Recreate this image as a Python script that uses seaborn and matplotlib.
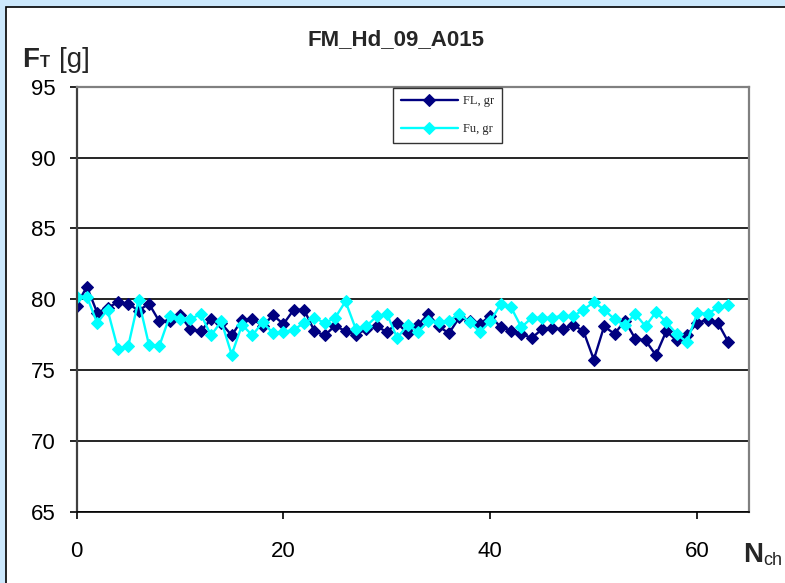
import matplotlib
matplotlib.use("Agg")
import matplotlib.pyplot as plt
import matplotlib.patches as patches
import seaborn as sns
import pandas as pd
import numpy as np

# chip number
n_ch = list(range(64))

# FL, gr (dark blue series)
fl_gr = [79.56, 80.90, 79.06, 79.40, 79.80, 79.70, 79.20, 79.70, 78.45, 78.50,
         78.90, 77.90, 77.75, 78.60, 78.30, 77.46, 78.55, 78.60, 78.15, 78.87,
         78.26, 79.27, 79.27, 77.75, 77.46, 78.15, 77.75, 77.50, 77.90, 78.10,
         77.70, 78.33, 77.60, 78.20, 78.97, 78.10, 77.60, 78.73, 78.50, 78.26,
         78.85, 78.03, 77.80, 77.56, 77.27, 77.90, 77.97, 77.90, 78.20, 77.75,
         75.75, 78.10, 77.56, 78.50, 77.23, 77.10, 76.06, 77.75, 77.10, 77.50,
         78.33, 78.57, 78.33, 76.99]

# Fu, gr (cyan series)
fu_gr = [80.20, 80.20, 78.33, 79.27, 76.50, 76.70, 79.95, 76.80, 76.70, 78.80,
         78.60, 78.60, 78.97, 77.46, 78.45, 76.10, 78.20, 77.46, 78.40, 77.60,
         77.70, 77.86, 78.33, 78.70, 78.33, 78.70, 79.86, 77.90, 78.10, 78.80,
         78.97, 77.27, 78.20, 77.70, 78.45, 78.40, 78.50, 78.97, 78.40, 77.70,
         78.45, 79.67, 79.44, 78.03, 78.70, 78.70, 78.70, 78.85, 78.80, 79.27,
         79.80, 79.27, 78.60, 78.17, 78.97, 78.10, 79.10, 78.40, 77.56, 76.97,
         79.04, 78.97, 79.44, 79.58]

series_names = ["FL, gr", "Fu, gr"]
series_colors = ["#000080", "#00FFFF"]
y_ticks = [65, 70, 75, 80, 85, 90, 95]
x_ticks = [0, 20, 40, 60]

df = pd.DataFrame({
    "N": n_ch * 2,
    "F": fl_gr + fu_gr,
    "series": [series_names[0]] * len(n_ch) + [series_names[1]] * len(n_ch),
})

sns.set_style("white")
plt.rcParams["font.family"] = ["Liberation Sans", "DejaVu Sans"]

fig = plt.figure(figsize=(7.85, 5.83), dpi=100)
fig.patch.set_facecolor("#cce8fc")

# white chart area with black frame
frame = patches.Rectangle((6 / 785, -0.01), 1.0, (583 - 7) / 583 + 0.01,
                          transform=fig.transFigure, facecolor="white",
                          edgecolor="black", linewidth=1.2, zorder=-1)
fig.add_artist(frame)

ax = fig.add_axes([76.5 / 785, 1 - 512 / 583, (749 - 76.5) / 785, (512 - 86.7) / 583])

sns.lineplot(data=df, x="N", y="F", hue="series", palette=series_colors,
             marker="D", markersize=6.5, markeredgecolor=None,
             linewidth=1.7, legend=False, ax=ax)
for line, c in zip(ax.lines, series_colors):
    line.set_markeredgecolor(c)
    line.set_markerfacecolor(c)

ax.set_xlim(0, 65)
ax.set_ylim(65, 95)
ax.set_xticks(x_ticks)
ax.set_yticks(y_ticks)
ax.set_xlabel("")
ax.set_ylabel("")
ax.yaxis.grid(True, color="black", linewidth=1.2)
ax.set_axisbelow(True)
ax.tick_params(axis="both", labelsize=16, length=5, width=1.2, direction="out",
               left=True, bottom=True, colors="black")
ax.tick_params(axis="y", pad=10)
ax.tick_params(axis="x", pad=16)

ax.spines["left"].set_color("#404040")
ax.spines["left"].set_linewidth(1.6)
ax.spines["bottom"].set_color("black")
ax.spines["bottom"].set_linewidth(1.2)
for s in ["top", "right"]:
    ax.spines[s].set_visible(True)
    ax.spines[s].set_color("#808080")
    ax.spines[s].set_linewidth(1.6)

leg = ax.legend(handles=ax.lines[:2], labels=series_names,
                loc="upper left", bbox_to_anchor=((393 - 76.5) / (749 - 76.5), 1.0 - (88 - 86.7) / (512 - 86.7)),
                prop={"family": "Liberation Serif", "size": 9},
                frameon=True, fancybox=False, edgecolor="black",
                handlelength=4.6, handletextpad=0.4, labelspacing=1.25,
                borderpad=0.6, borderaxespad=0)
leg.get_frame().set_linewidth(1.0)

# title and axis labels
fig.text(396 / 785, 1 - 40 / 583, "FM_Hd_09_A015", ha="center", va="center",
         fontsize=16, fontweight="bold")
fig.text(22 / 785, 1 - 67 / 583, "F", ha="left", va="baseline",
         fontsize=20, fontweight="bold")
fig.text(40 / 785, 1 - 67 / 583, "T", ha="left", va="baseline",
         fontsize=12, fontweight="bold")
fig.text(59 / 785, 1 - 67 / 583, "[g]", ha="left", va="baseline", fontsize=20)
fig.text(743 / 785, 1 - 562 / 583, "N", ha="left", va="baseline",
         fontsize=20, fontweight="bold")
fig.text(763 / 785, 1 - 565 / 583, "ch", ha="left", va="baseline", fontsize=13)

fig.savefig("out.png", dpi=100, facecolor=fig.get_facecolor())
